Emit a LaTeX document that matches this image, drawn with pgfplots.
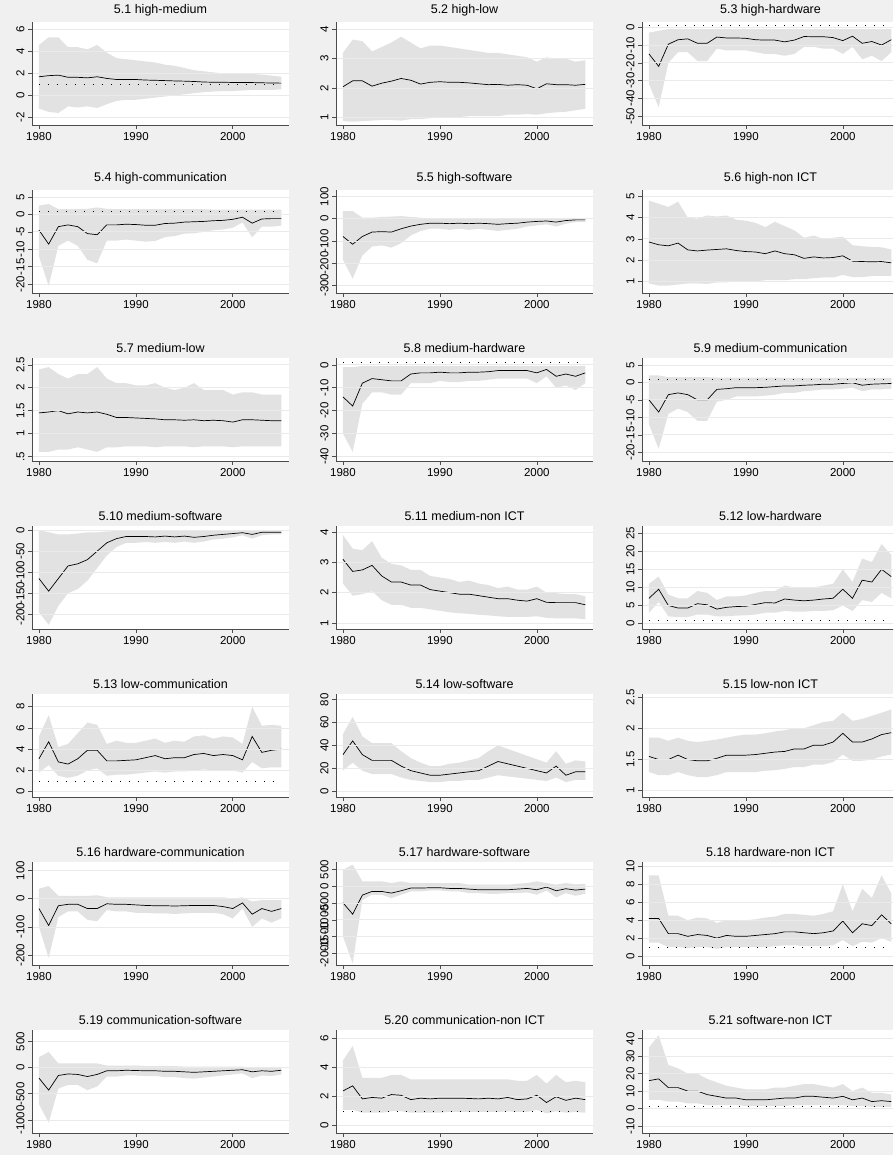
\documentclass[border=0pt]{standalone}
\usepackage{pgfplots}
\pgfplotsset{compat=1.18}
\usepackage{pgfplotstable}
\usepackage{fontspec}
\setmainfont{Liberation Sans}
\definecolor{bg}{HTML}{F0F0F0}
\definecolor{band}{HTML}{E2E2E2}
\definecolor{gridc}{HTML}{EAEAEA}

\pgfplotstableread{
m l u
1.7 -1.2 4.6
1.8 -1.5 5.3
1.85 -1.6 5.3
1.65 -1.0 4.4
1.65 -1.1 4.4
1.6 -1.0 4.2
1.7 -1.15 4.6
1.55 -0.8 3.9
1.45 -0.5 3.4
1.45 -0.4 3.3
1.45 -0.4 3.2
1.4 -0.3 3.1
1.38 -0.2 3.0
1.35 -0.1 2.8
1.32 0 2.7
1.3 0.1 2.5
1.27 0.2 2.3
1.22 0.3 2.2
1.2 0.35 2.1
1.2 0.4 2.0
1.18 0.4 2.0
1.17 0.45 2.0
1.17 0.5 1.95
1.15 0.5 1.9
1.13 0.5 1.8
1.12 0.55 1.7
}\tA
\pgfplotstableread{
m l u
2.05 0.88 3.2
2.25 0.86 3.65
2.25 0.88 3.6
2.07 0.9 3.25
2.17 0.92 3.4
2.24 0.92 3.55
2.33 0.9 3.75
2.27 0.95 3.55
2.14 0.95 3.35
2.2 0.98 3.45
2.22 1.0 3.45
2.2 1.0 3.4
2.2 1.02 3.35
2.18 1.05 3.3
2.15 1.05 3.25
2.12 1.05 3.2
2.13 1.05 3.2
2.1 1.1 3.15
2.12 1.1 3.1
2.1 1.12 3.05
1.98 1.1 2.9
2.15 1.15 3.05
2.12 1.18 3.0
2.12 1.2 3.0
2.1 1.25 2.9
2.13 1.3 2.95
}\tB
\pgfplotstableread{
m l u
-15 -32 -3
-22 -45 -2
-9.5 -20 -1
-7 -14 -1
-6.5 -14 -1
-9 -19 -1
-9 -19 -1
-5.5 -12 -1
-6 -13 -1
-6 -13 -1
-6.2 -13 -1
-7 -14 -1
-7.2 -15 -1
-7.2 -15 -1
-8.2 -16 -1
-7.2 -15 -1
-5.2 -11 -1
-5.3 -11 -1
-5.3 -12 -1
-5.8 -12 -1
-7.5 -15 -1
-5 -11 -1
-9 -18 -1
-8 -16 -1
-10 -19 -1
-7 -14 -1
}\tC
\pgfplotstableread{
m l u
-4.5 -12 2.5
-8.5 -20.5 3
-3.5 -9 1.5
-3 -7.5 1.5
-3.5 -9 1.6
-5.5 -13 1.6
-5.8 -14 2
-3 -7.5 1.6
-3 -7.5 1.5
-2.8 -7.2 1.5
-2.9 -7.5 1.5
-3.1 -7.8 1.5
-3.1 -7.6 1.5
-2.6 -6.5 1.5
-2.5 -6.2 1.5
-2.2 -5.5 1.5
-2.1 -5.4 1.5
-2 -5 1.5
-1.8 -4.5 1.4
-1.7 -4.3 1.4
-1.4 -3.8 1.4
-0.8 -2.3 1.4
-2.5 -6.5 1.4
-1.3 -3.5 1.4
-1.2 -3.5 1.4
-1.2 -3.2 1.4
}\tD
\pgfplotstableread{
m l u
-80 -185 35
-115 -270 35
-80 -165 5
-60 -125 5
-58 -120 8
-60 -130 10
-45 -110 12
-33 -75 8
-25 -55 5
-20 -45 0
-20 -45 0
-22 -50 0
-20 -45 0
-22 -50 0
-20 -45 0
-22 -50 0
-25 -55 0
-22 -50 0
-20 -45 0
-15 -35 0
-12 -30 0
-10 -25 0
-15 -35 0
-8 -22 0
-5 -15 0
-5 -15 0
}\tE
\pgfplotstableread{
m l u
2.85 0.9 4.8
2.72 0.8 4.65
2.67 0.8 4.5
2.8 0.85 4.75
2.48 0.9 4.0
2.43 0.9 3.95
2.47 0.88 4.1
2.5 0.95 4.05
2.53 0.95 4.1
2.45 1.0 3.9
2.4 1.0 3.85
2.38 1.0 3.75
2.3 1.05 3.55
2.43 1.05 3.8
2.3 1.05 3.6
2.25 1.1 3.4
2.08 1.1 3.05
2.15 1.15 3.15
2.1 1.18 3.0
2.12 1.18 3.05
2.2 1.3 3.1
1.95 1.2 2.7
1.93 1.2 2.65
1.92 1.25 2.62
1.93 1.25 2.6
1.87 1.25 2.5
}\tF
\pgfplotstableread{
m l u
1.45 0.6 2.4
1.47 0.6 2.45
1.5 0.65 2.3
1.43 0.65 2.2
1.47 0.7 2.3
1.45 0.65 2.3
1.47 0.6 2.45
1.42 0.7 2.2
1.35 0.7 2.1
1.35 0.72 2.1
1.34 0.72 2.05
1.33 0.72 2.05
1.32 0.7 2.1
1.3 0.72 2.0
1.3 0.72 1.95
1.29 0.72 2.0
1.3 0.7 2.1
1.28 0.72 1.95
1.29 0.72 1.95
1.28 0.72 1.95
1.25 0.7 1.85
1.3 0.72 1.9
1.3 0.72 1.9
1.29 0.72 1.85
1.28 0.72 1.85
1.28 0.72 1.85
}\tG
\pgfplotstableread{
m l u
-14 -30 -1
-18 -38 -1
-8 -17 -0.5
-6 -12 -0.5
-6.5 -12 -0.5
-7 -13 -0.5
-7 -13 -0.5
-4 -8 -0.5
-3.5 -8 -0.5
-3.5 -8 -0.5
-3.2 -7 -0.5
-3.5 -7.5 -0.5
-3.5 -7.5 -0.5
-3.2 -7 -0.5
-3.2 -7 -0.5
-3 -6.5 -0.5
-2.5 -6 -0.5
-2.5 -6 -0.5
-2.5 -6 -0.5
-2.5 -6 -0.5
-3.5 -8 -0.5
-2 -5 -0.5
-5 -10 -0.5
-4 -9 -0.5
-5 -11 -0.5
-3.5 -8 -0.5
}\tH
\pgfplotstableread{
m l u
-5 -12 2
-8.5 -19 2
-3.5 -9 1.5
-3 -7.5 1.5
-3.5 -8.5 1.5
-5 -11 1.5
-5 -11 1.5
-2 -5.5 1.4
-1.8 -5 1.4
-1.5 -4 1.4
-1.5 -4 1.4
-1.5 -4 1.4
-1.4 -3.8 1.4
-1.2 -3.5 1.4
-1 -3 1.3
-1 -3 1.3
-0.8 -2.5 1.3
-0.7 -2.3 1.3
-0.5 -2 1.3
-0.5 -2 1.3
-0.3 -1.8 1.3
-0.1 -1.5 1.3
-0.8 -2.5 1.3
-0.5 -2 1.3
-0.4 -2 1.3
-0.3 -1.8 1.3
}\tI
\pgfplotstableread{
m l u
-115 -195 0
-145 -225 -5
-115 -180 -10
-85 -150 -10
-80 -140 -8
-70 -120 -5
-50 -90 -5
-30 -60 -3
-20 -40 -2
-15 -30 -2
-15 -30 -2
-15 -28 -2
-16 -30 -2
-14 -28 -2
-16 -30 -2
-14 -27 -2
-17 -30 -2
-15 -27 -2
-12 -22 -2
-10 -20 -1
-8 -17 -1
-6 -12 -1
-10 -20 -1
-5 -12 -1
-5 -10 -1
-5 -10 -1
}\tJ
\pgfplotstableread{
m l u
3.1 2.3 3.9
2.7 1.9 3.45
2.75 1.95 3.4
2.9 2.05 3.7
2.55 1.75 3.15
2.35 1.6 2.95
2.35 1.6 2.9
2.25 1.5 2.75
2.25 1.5 2.75
2.1 1.45 2.55
2.05 1.4 2.5
2.0 1.35 2.45
1.95 1.32 2.35
1.95 1.3 2.4
1.9 1.27 2.3
1.85 1.25 2.25
1.8 1.22 2.15
1.8 1.2 2.2
1.75 1.2 2.1
1.72 1.2 2.1
1.8 1.22 2.2
1.68 1.17 2.0
1.67 1.15 1.98
1.67 1.15 1.95
1.67 1.15 1.95
1.6 1.12 1.88
}\tK
\pgfplotstableread{
m l u
7 3 11
9.5 6 13
5 2 8
4.3 1.8 7
4.3 1.8 7
5.5 2.5 9
5.2 2.5 8.5
4 2 6.5
4.5 2 7.5
4.7 2.2 7.5
4.8 2.3 7.8
5.3 2.5 8.5
5.8 3 9
5.7 3 9
6.8 3.5 10.5
6.5 3.3 10
6.3 3.3 9.8
6.5 3.5 10
6.8 3.5 10.5
7 3.7 11
9.5 5 15
7 3.5 11.5
12 6.5 18
11.5 6 17
15 8.5 22
13 7 19
}\tL
\pgfplotstableread{
m l u
3.1 1.8 5.2
4.7 2.5 7.2
2.8 1.5 4.2
2.6 1.3 4.5
3.1 1.5 5.5
3.9 2.0 6.5
3.9 2.2 6.3
2.9 1.5 4.5
2.9 1.6 4.8
2.95 1.6 4.6
3.0 1.7 4.6
3.2 1.8 4.8
3.4 1.9 5.0
3.1 1.8 4.6
3.2 1.9 4.8
3.2 1.9 4.7
3.5 2.0 5.2
3.6 2.1 5.3
3.4 2.0 5.0
3.5 2.0 5.2
3.4 2.0 5.1
3.0 1.8 4.5
5.2 2.8 8
3.7 2.2 6.2
3.9 2.3 6.3
4.0 2.3 6.2
}\tM
\pgfplotstableread{
m l u
32 18 50
44 25 65
32 18 48
27 15 42
27 15 42
27 15 42
22 12 35
18 10 29
16 9 25
14 8 22
14 8 22
15 9 24
16 9 25
17 10 27
18 10 29
22 12 35
26 14 40
24 13 37
22 12 34
20 11 31
18 10 28
16 9 25
22 12 35
14 8 24
17 10 27
17 10 26
}\tN
\pgfplotstableread{
m l u
1.55 1.3 1.85
1.5 1.25 1.85
1.5 1.25 1.8
1.57 1.3 1.85
1.5 1.25 1.8
1.48 1.22 1.78
1.48 1.22 1.8
1.52 1.25 1.82
1.57 1.3 1.85
1.57 1.3 1.88
1.57 1.3 1.9
1.58 1.3 1.9
1.6 1.32 1.92
1.62 1.33 1.95
1.63 1.35 1.97
1.67 1.38 2.0
1.67 1.38 2.0
1.73 1.42 2.05
1.73 1.42 2.1
1.78 1.46 2.12
1.92 1.58 2.25
1.78 1.48 2.12
1.78 1.48 2.15
1.83 1.5 2.2
1.9 1.55 2.25
1.93 1.58 2.3
}\tO
\pgfplotstableread{
m l u
-35 -100 35
-95 -210 45
-25 -65 10
-20 -45 10
-20 -45 10
-35 -75 10
-35 -80 12
-18 -40 5
-20 -45 5
-20 -45 5
-22 -50 5
-24 -50 5
-25 -52 5
-25 -52 5
-26 -54 5
-25 -52 5
-24 -50 5
-24 -50 5
-24 -50 5
-28 -55 5
-35 -70 0
-15 -35 5
-55 -100 -10
-35 -70 -5
-45 -85 -5
-35 -70 -5
}\tP
\pgfplotstableread{
m l u
-490 -1500 500
-830 -2300 650
-260 -400 150
-150 -250 150
-150 -250 150
-200 -350 100
-130 -250 150
-50 -150 100
-50 -150 100
-40 -120 100
-40 -120 100
-60 -150 100
-60 -150 100
-80 -200 50
-100 -200 50
-100 -220 50
-100 -220 50
-100 -200 50
-80 -200 80
-60 -180 100
-100 -250 150
-20 -120 100
-130 -330 50
-70 -200 100
-110 -280 60
-80 -220 80
}\tQ
\pgfplotstableread{
m l u
4.2 1.5 9
4.2 1.5 9
2.5 1 4.5
2.5 1 4.5
2.2 0.9 4
2.4 1 4.3
2.3 1 4.2
2.0 0.8 3.7
2.3 1 4
2.2 1 4
2.2 1 4
2.3 1 4.1
2.4 1 4.3
2.5 1.1 4.4
2.7 1.2 4.7
2.7 1.2 4.7
2.6 1.1 4.6
2.5 1.1 4.5
2.6 1.1 4.7
2.8 1.2 5
3.9 1.8 8
2.6 1.1 5
3.6 1.6 7.5
3.4 1.5 6.5
4.6 2 9
3.6 1.6 7
}\tR
\pgfplotstableread{
m l u
-200 -700 200
-430 -1050 300
-150 -400 80
-120 -330 80
-130 -330 80
-170 -430 80
-130 -360 80
-60 -170 40
-60 -170 40
-50 -150 40
-55 -150 40
-60 -160 30
-60 -160 30
-70 -180 30
-70 -180 30
-80 -200 20
-90 -210 20
-80 -190 20
-70 -170 20
-60 -150 20
-50 -130 20
-40 -110 20
-80 -200 0
-60 -150 10
-70 -160 0
-50 -130 10
}\tS
\pgfplotstableread{
m l u
2.4 1.1 4.5
2.75 1.1 5.5
1.85 0.9 3.3
1.95 0.9 3.3
1.9 0.9 3.3
2.15 1.0 3.5
2.1 1.0 3.5
1.8 0.9 3.2
1.9 0.9 3.2
1.85 0.9 3.2
1.9 0.9 3.2
1.9 0.95 3.2
1.9 0.95 3.2
1.88 0.95 3.2
1.85 0.95 3.2
1.9 0.95 3.2
1.85 0.95 3.2
1.95 1.0 3.2
1.8 0.95 3.1
1.85 0.95 3.1
2.1 1.1 3.5
1.6 0.85 2.9
2.0 1.0 3.5
1.75 0.9 3.0
1.9 0.95 3.1
1.8 0.9 3.0
}\tT
\pgfplotstableread{
m l u
16 5 35
17 5 42
12 4 25
12 4 23
10 3 20
10 3 20
8 2 17
7 2 15
6 2 13
6 2 12
5 1.5 11
5 1.5 11
5 1.5 11
5.5 1.5 12
6 1.5 12
6 2 13
7 2 14
7 2 14
6.5 2 13
6 2 12
7 2 14
5 1.5 10
6 1.5 12
4 1 9
4.5 1 9
4 1 8
}\tU

\pgfplotsset{
  panel/.style={
    scale only axis, width=257pt, height=103pt, anchor=north west,
    axis lines*=left, axis line style={black!70, line width=0.6pt},
    xmin=1979.28, xmax=2005.8, xtick={1980,1990,2000},
    tick align=outside, tick style={black!70, line width=0.6pt}, major tick length=4pt,
    ymajorgrids, grid style={gridc, line width=0.8pt}, axis on top,
    axis background/.style={fill=white},
    tick label style={font=\fontsize{11.5}{12}\selectfont},
    yticklabel style={rotate=90, anchor=south},
    /pgf/number format/assume math mode=true,
    /pgf/number format/1000 sep={},
    scaled y ticks=false,
    title style={font=\fontsize{12.5}{14}\selectfont, yshift=-4pt},
  }
}
\newcommand\panel[6]{%
\begin{axis}[panel, at={(#1,#2)}, title={#4}, #6]
\addplot[draw=none, stack plots=y, forget plot] table[x expr=\coordindex+1980, y=l]{#3};
\addplot[fill=band, draw=none, stack plots=y] table[x expr=\coordindex+1980, y expr=\thisrow{u}-\thisrow{l}]{#3} \closedcycle;
\addplot[stack plots=false, black, line width=0.8pt, dash pattern=on 1pt off 8pt] coordinates {(1980,#5) (2005,#5)};
\addplot[stack plots=false, black, line width=0.7pt] table[x expr=\coordindex+1980, y=m]{#3};
\end{axis}}

\begin{document}
\begin{tikzpicture}
\useasboundingbox (0,0) rectangle (893pt,1155pt);
\clip (0,0) rectangle (893pt,1155pt);
\fill[bg] (0,0) rectangle (893pt,1155pt);
\panel{32pt}{1133pt}{\tA}{5.1 high-medium}{1}{ymin=-2.7,ymax=6.7,ytick={-2,0,2,4,6}}
\panel{336pt}{1133pt}{\tB}{5.2 high-low}{1}{ymin=0.75,ymax=4.25,ytick={1,2,3,4}}
\panel{642pt}{1133pt}{\tC}{5.3 high-hardware}{1}{ymin=-55,ymax=3,ytick={-50,-40,-30,-20,-10,0}}
\panel{32pt}{965pt}{\tD}{5.4 high-communication}{1}{ymin=-22.5,ymax=7,ytick={-20,-15,-10,-5,0,5}}
\panel{336pt}{965pt}{\tE}{5.5 high-software}{0}{ymin=-335,ymax=130,ytick={-300,-200,-100,0,100}}
\panel{642pt}{965pt}{\tF}{5.6 high-non ICT}{1}{ymin=0.45,ymax=5.3,ytick={1,2,3,4,5}}
\panel{32pt}{797pt}{\tG}{5.7 medium-low}{1}{ymin=0.4,ymax=2.65,ytick={0.5,1,1.5,2,2.5},yticklabels={.5,1,1.5,2,2.5}}
\panel{336pt}{797pt}{\tH}{5.8 medium-hardware}{1}{ymin=-42,ymax=3,ytick={-40,-30,-20,-10,0}}
\panel{642pt}{797pt}{\tI}{5.9 medium-communication}{1}{ymin=-22.5,ymax=7,ytick={-20,-15,-10,-5,0,5}}
\panel{32pt}{629pt}{\tJ}{5.10 medium-software}{0}{ymin=-235,ymax=10,ytick={-200,-150,-100,-50,0}}
\panel{336pt}{629pt}{\tK}{5.11 medium-non ICT}{1}{ymin=0.8,ymax=4.2,ytick={1,2,3,4}}
\panel{642pt}{629pt}{\tL}{5.12 low-hardware}{1}{ymin=-1.5,ymax=27,ytick={0,5,10,15,20,25}}
\panel{32pt}{461pt}{\tM}{5.13 low-communication}{1}{ymin=-0.5,ymax=9.2,ytick={0,2,4,6,8}}
\panel{336pt}{461pt}{\tN}{5.14 low-software}{0}{ymin=-5,ymax=85,ytick={0,20,40,60,80}}
\panel{642pt}{461pt}{\tO}{5.15 low-non ICT}{1}{ymin=0.9,ymax=2.55,ytick={1,1.5,2,2.5}}
\panel{32pt}{293pt}{\tP}{5.16 hardware-communication}{0}{ymin=-235,ymax=130,ytick={-200,-100,0,100}}
\panel{336pt}{293pt}{\tQ}{5.17 hardware-software}{0}{ymin=-2350,ymax=730,ytick={-2000,-1500,-1000,-500,0,500}}
\panel{642pt}{293pt}{\tR}{5.18 hardware-non ICT}{1}{ymin=-1,ymax=10.5,ytick={0,2,4,6,8,10}}
\panel{32pt}{125pt}{\tS}{5.19 communication-software}{0}{ymin=-1250,ymax=720,ytick={-1000,-500,0,500}}
\panel{336pt}{125pt}{\tT}{5.20 communication-non ICT}{1}{ymin=-0.5,ymax=6.6,ytick={0,2,4,6}}
\panel{642pt}{125pt}{\tU}{5.21 software-non ICT}{1}{ymin=-14,ymax=45,ytick={-10,0,10,20,30,40}}
\end{tikzpicture}
\end{document}
